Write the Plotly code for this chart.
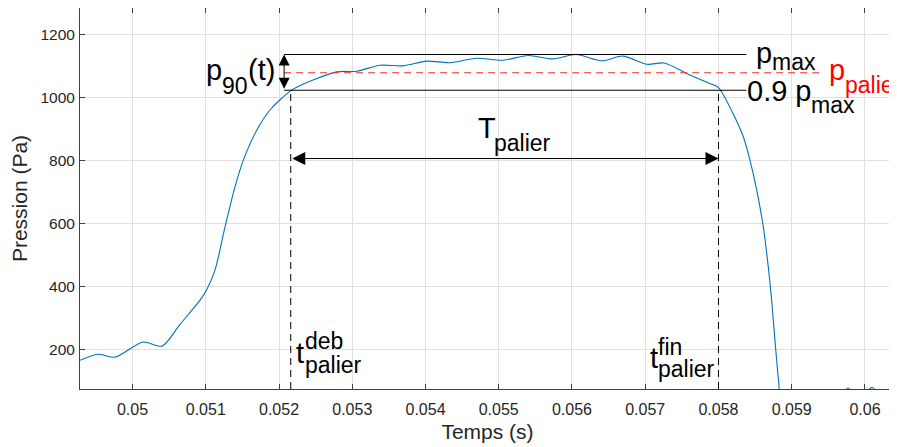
import plotly.graph_objects as go

FONT = "Liberation Sans, Arial, Helvetica, sans-serif"

# ---- data ----
time_s = [0.049283, 0.049529, 0.049761, 0.050143, 0.050403, 0.050648, 0.050922,
          0.051013, 0.051126, 0.051263, 0.051399, 0.051513, 0.051696, 0.051877, 0.052173,
          0.052464, 0.052788, 0.053061, 0.053379, 0.053693, 0.054016, 0.054334, 0.054699,
          0.055058, 0.055399, 0.055741, 0.056055, 0.056410, 0.056696, 0.057024, 0.057256,
          0.057611, 0.057884, 0.058000, 0.058198, 0.058339, 0.058430, 0.058522, 0.058612,
          0.058680, 0.058726, 0.058771, 0.058822, 0.058950, 0.059300, 0.059600, 0.059770,
          0.059900, 0.060100, 0.060250, 0.060400]
pressure_pa = [166, 185, 176, 224, 211, 280, 357,
               390, 452, 589, 716, 801, 896, 960, 1023,
               1055, 1081, 1083, 1102, 1100, 1115, 1110, 1124,
               1118, 1133, 1122, 1136, 1116, 1131, 1105, 1109,
               1071, 1044, 1031, 949, 875, 801, 706, 589,
               462, 357, 230, 97, -150, -120, 20, 78,
               40, 80, 20, -40]

x_tick_vals = [0.05, 0.051, 0.052, 0.053, 0.054, 0.055, 0.056, 0.057, 0.058, 0.059, 0.06]
x_tick_text = ["0.05", "0.051", "0.052", "0.053", "0.054", "0.055", "0.056", "0.057",
               "0.058", "0.059", "0.06"]
y_tick_vals = [200, 400, 600, 800, 1000, 1200]

P_MAX = 1136
P_PALIER = 1078
P_90 = 0.9 * P_MAX
T_DEB = 0.05216
T_FIN = 0.05800
T_ARROW = 0.05207
T_LINE_END = 0.05838
T_RED_END = 0.05941
LEVEL_T_PALIER = 806
X_RANGE = [0.049283, 0.060410]
Y_RANGE = [75, 1283.5]

fig = go.Figure()
fig.add_trace(go.Scatter(x=time_s, y=pressure_pa, mode="lines",
                         line=dict(color="#0072BD", width=1.1, shape="spline", smoothing=0.8),
                         hoverinfo="skip", showlegend=False))

# reference lines
for lvl, xe in [(P_MAX, T_LINE_END), (P_90, T_LINE_END)]:
    fig.add_shape(type="line", xref="x", yref="y", x0=T_ARROW, x1=xe, y0=lvl, y1=lvl,
                  line=dict(color="black", width=1.1))
fig.add_shape(type="line", xref="x", yref="y", x0=T_ARROW, x1=T_RED_END, y0=P_PALIER, y1=P_PALIER,
              line=dict(color="#ff2a2a", width=1.1, dash="7px,5px"))
for tv in [T_DEB, T_FIN]:
    fig.add_shape(type="line", xref="x", yref="y", x0=tv, x1=tv, y0=Y_RANGE[0], y1=P_90,
                  line=dict(color="black", width=1, dash="7px,5px"))

# double arrows
fig.add_annotation(x=T_ARROW, y=P_MAX, ax=T_ARROW, ay=P_90, xref="x", yref="y", axref="x", ayref="y",
                   text="", showarrow=True, arrowside="end+start", arrowhead=2, arrowsize=2.2,
                   arrowwidth=1, arrowcolor="black", standoff=0, startstandoff=0)
fig.add_annotation(x=T_FIN, y=LEVEL_T_PALIER, ax=T_DEB, ay=LEVEL_T_PALIER, xref="x", yref="y",
                   axref="x", ayref="y", text="", showarrow=True, arrowside="end+start",
                   arrowhead=2, arrowsize=2.6, arrowwidth=1, arrowcolor="black",
                   standoff=0, startstandoff=0)


def txt(x, y, s, size, dx, base_dy, color="black"):
    fig.add_annotation(x=x, y=y, xref="x", yref="y", text=s, showarrow=False,
                       xanchor="left", yanchor="middle", xshift=dx - 1,
                       yshift=-(base_dy - 0.35 * size),
                       font=dict(size=size, color=color, family=FONT))


MAIN, SUB = 29, 23
# p_max
txt(T_LINE_END, P_MAX, "p", MAIN, 9, 9)
txt(T_LINE_END, P_MAX, "max", SUB, 25, 16)
# p_palier (red)
txt(T_RED_END, P_PALIER, "p", MAIN, 6, 7, "#ff0000")
txt(T_RED_END, P_PALIER, "palier", SUB, 22, 20, "#ff0000")
# 0.9 p_max
txt(T_LINE_END, P_90, "0.9 p", MAIN, 0, 11)
txt(T_LINE_END, P_90, "max", SUB, 64, 23)
# p_90(t)
mid = (P_MAX + P_90) / 2
txt(T_ARROW, mid, "p", MAIN, -79, 8)
txt(T_ARROW, mid, "90", SUB, -63, 22)
txt(T_ARROW, mid, "(t)", MAIN, -37, 8)
# T_palier
tmid = (T_DEB + T_FIN) / 2
txt(tmid, LEVEL_T_PALIER, "T", MAIN, -28, -20)
txt(tmid, LEVEL_T_PALIER, "palier", SUB, -12, -7)
# t deb palier
txt(T_DEB, Y_RANGE[0], "t", MAIN, 4, -26)
txt(T_DEB, Y_RANGE[0], "deb", SUB, 13, -40)
txt(T_DEB, Y_RANGE[0], "palier", SUB, 13, -16)
# t fin palier
txt(T_FIN, Y_RANGE[0], "t", MAIN, -69, -21)
txt(T_FIN, Y_RANGE[0], "fin", SUB, -61, -34)
txt(T_FIN, Y_RANGE[0], "palier", SUB, -61, -12)

axis_common = dict(showline=True, linecolor="#404040", linewidth=1, mirror="ticks",
                   ticks="inside", ticklen=5, tickcolor="#404040", showgrid=True,
                   gridcolor="#e0e0e0", gridwidth=1, zeroline=False, automargin=False)
fig.update_xaxes(range=X_RANGE, tickvals=x_tick_vals, ticktext=x_tick_text,
                 tickfont=dict(size=16, color="#262626", family=FONT), ticklabelstandoff=6,
                 title=dict(text="Temps (s)", font=dict(size=21, color="#262626", family=FONT),
                            standoff=7), **axis_common)
fig.update_yaxes(range=Y_RANGE, tickvals=y_tick_vals,
                 tickfont=dict(size=15.5, color="#262626", family=FONT), ticklabelstandoff=1,
                 title=dict(text="Pression (Pa)", font=dict(size=21, color="#262626", family=FONT),
                            standoff=17), **axis_common)

fig.update_layout(width=889, height=439, margin=dict(l=72, r=2, t=0, b=58),
                  paper_bgcolor="white", plot_bgcolor="white", showlegend=False,
                  font=dict(family=FONT))

fig.write_html("out.html")
